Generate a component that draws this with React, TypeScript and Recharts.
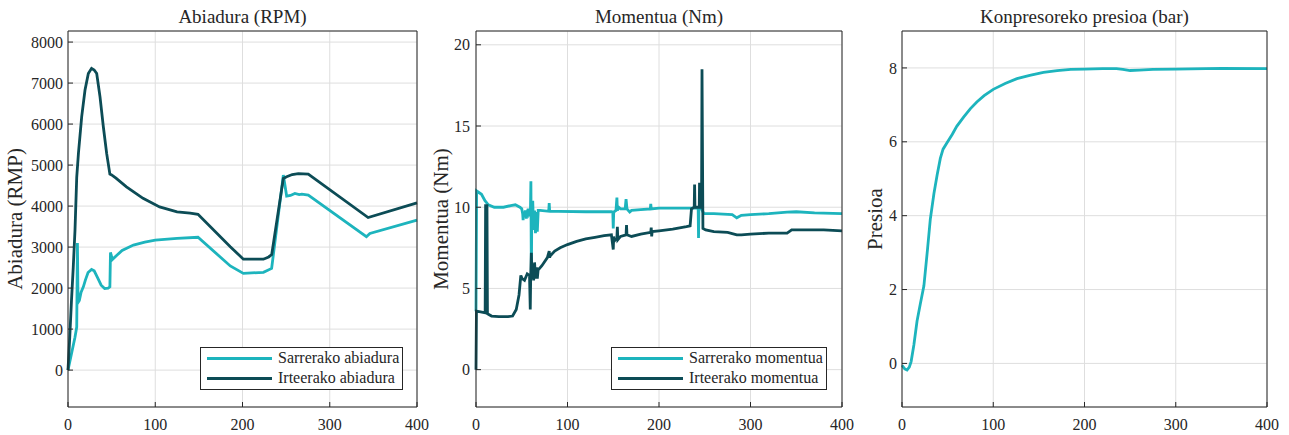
import React from 'react';
import { LineChart, Line, XAxis, YAxis, CartesianGrid, Legend, ReferenceLine } from 'recharts';

const FONT = '"Liberation Serif", "Times New Roman", serif';
const CYAN = '#1db4bd';
const DARK = '#0c4c56';
const INK = '#262626';

const xTicks = [0, 100, 200, 300, 400];
const speedTicks = [0, 1000, 2000, 3000, 4000, 5000, 6000, 7000, 8000];
const torqueTicks = [0, 5, 10, 15, 20];
const pressureTicks = [0, 2, 4, 6, 8];

// [t, rpm]
const inputSpeed: [number, number][] = [
  [0, 0], [4, 400], [8, 800], [10, 1050], [10.8, 3100], [11.5, 1650], [13, 1700],
  [15, 1900], [17.6, 2030], [20, 2200], [23, 2380], [27, 2455], [30, 2420],
  [34, 2250], [38, 2070], [42, 1990], [46, 2000], [48, 2030], [48.7, 2870],
  [49.5, 2800], [51, 2700], [56, 2800], [62, 2920], [75, 3050], [88, 3120],
  [100, 3170], [125, 3210], [149, 3240], [186, 2540], [201, 2358], [224, 2385],
  [233.4, 2480], [246.8, 4756], [250.6, 4244], [255, 4260], [260, 4310],
  [265, 4280], [268, 4290], [275.4, 4268], [342, 3252], [346, 3333], [400, 3658],
];

const outputSpeed: [number, number][] = [
  [0, 0], [2, 800], [4, 1700], [6, 2500], [8, 3400], [10, 4700], [12, 5300],
  [15.7, 6180], [19.5, 6830], [23.3, 7235], [27, 7360], [30, 7320], [32.9, 7235],
  [36.7, 6665], [40.5, 5935], [44.3, 5285], [48, 4780], [50, 4760], [55, 4680],
  [67, 4470], [86, 4190], [105, 3980], [125, 3860], [140, 3830], [149, 3800],
  [186, 3010], [201, 2705], [224, 2705], [230, 2760], [233.5, 2820],
  [246.8, 4675], [250.6, 4715], [257, 4770], [264, 4790], [275.4, 4780],
  [344, 3720], [400, 4080],
];

// [t, Nm]
const inputTorque: [number, number][] = [
  [0, 3.6], [0.7, 11.0], [6, 10.8], [9.8, 10.4], [13.5, 10.15], [20, 10.0],
  [30, 10.0], [38, 10.1], [43, 10.15], [48, 10.0], [50, 9.9], [51, 9.6],
  [51.5, 9.2], [52, 9.7], [53, 9.5], [54, 9.8], [55, 9.3], [56, 9.7], [57, 9.9],
  [58, 9.6], [59.5, 9.8], [60, 11.6], [60.5, 5.7], [61, 9.8], [61.5, 9.0],
  [62, 10.4], [63, 8.6], [64, 9.8], [65, 8.4], [66, 9.7], [67, 8.5], [68, 9.8],
  [70, 9.8], [79.5, 9.75], [80, 10.25], [80.5, 9.75], [90, 9.75], [120, 9.72],
  [148, 9.72], [149.5, 9.7], [150, 8.7], [150.5, 9.7], [153, 9.8], [154, 10.6],
  [154.5, 9.8], [156, 10.0], [158, 9.9], [163, 9.9], [164, 10.5], [165, 9.9],
  [168, 9.7], [170, 9.8], [180, 9.85], [190.5, 9.9], [191, 10.2], [191.5, 9.9],
  [200, 9.95], [220, 9.95], [242.8, 9.95], [243.2, 8.1], [243.6, 9.9],
  [246, 9.95], [249, 9.6], [260, 9.6], [280, 9.55], [285, 9.35], [290, 9.5],
  [300, 9.55], [320, 9.6], [340, 9.7], [350, 9.72], [370, 9.65], [400, 9.6],
];

const outputTorque: [number, number][] = [
  [0, 0], [0.5, 3.6], [5, 3.55], [10, 3.5], [10.5, 10.1], [12, 10.1],
  [12.5, 3.45], [14, 3.4], [17, 3.3], [25, 3.27], [35, 3.27], [40, 3.3],
  [44, 3.7], [47, 4.6], [49, 5.8], [50.5, 5.6], [53, 5.5], [56, 5.9],
  [58.5, 5.8], [59.3, 3.7], [59.8, 5.8], [60.5, 7.2], [61.2, 5.6], [62, 6.4],
  [63, 5.5], [64, 6.6], [65, 5.6], [66, 6.3], [67, 5.6], [68, 6.2], [69, 6.2],
  [72, 6.4], [78, 6.9], [80, 7.3], [80.5, 6.9], [81, 7.0], [86, 7.3], [92, 7.5],
  [100, 7.7], [110, 7.9], [120, 8.05], [130, 8.15], [140, 8.25], [148, 8.3],
  [150, 7.4], [150.5, 8.2], [151, 7.9], [154, 8.1], [154.5, 8.8], [155, 8.0],
  [158, 8.2], [164, 8.3], [164.5, 8.9], [165, 8.3], [170, 8.2], [180, 8.35],
  [191, 8.45], [191.5, 8.75], [192, 8.2], [192.5, 8.5], [200, 8.55],
  [215, 8.65], [230, 8.8], [234, 8.85], [235.5, 9.9], [238.5, 10.0],
  [238.9, 11.4], [239.3, 10.0], [244, 10.0], [244.3, 11.5], [244.7, 10.0],
  [246.5, 10.0], [247, 18.5], [248, 8.7], [251, 8.6], [260, 8.5], [275, 8.45],
  [285, 8.3], [290, 8.3], [300, 8.35], [320, 8.4], [340, 8.4], [345, 8.6],
  [360, 8.6], [380, 8.6], [400, 8.55],
];

// [t, bar]
const pressure: [number, number][] = [
  [0, -0.05], [3, -0.15], [5.5, -0.18], [8, -0.1], [10, 0.05], [13, 0.5],
  [16.5, 1.15], [20, 1.6], [24, 2.1], [28, 3.1], [31, 3.9], [35, 4.6],
  [38.5, 5.1], [42, 5.55], [45, 5.8], [50, 6.0], [55, 6.2], [60, 6.42],
  [67.5, 6.67], [75, 6.9], [82, 7.08], [90, 7.25], [100, 7.42], [113, 7.58],
  [126, 7.71], [140, 7.8], [155, 7.88], [170, 7.93], [185, 7.96], [200, 7.97],
  [220, 7.98], [235, 7.98], [242, 7.96], [250, 7.93], [260, 7.94], [275, 7.96],
  [300, 7.97], [350, 7.99], [400, 7.98],
];

const toRows = (pts: [number, number][]) => pts.map(([t, v]) => ({ t, v }));

type Series = { name: string; color: string; points: [number, number][] };

type PanelProps = {
  left: number;
  width: number;
  yWidth: number;
  marginRight: number;
  yDomain: [number, number];
  yTicks: number[];
  yTickMargin: number;
  title: string;
  yLabel: string;
  yLabelX: number;
  series: Series[];
  legend?: { left: number; width: number };
};

// serif tick labels (the default tick text ignored the font family)
const XTick = ({ x, y, payload }: any) => (
  <text x={x} y={y} dy="0.71em" textAnchor="middle" fill={INK} style={{ fontFamily: FONT, fontSize: 16 }}>
    {payload.value}
  </text>
);

const YTick = ({ x, y, payload }: any) => (
  <text x={x} y={y} dy="0.355em" textAnchor="end" fill={INK} style={{ fontFamily: FONT, fontSize: 16 }}>
    {payload.value}
  </text>
);

// legend drawn in series order (recharts sorts the payload by name otherwise)
const LegendBox = ({ items }: { items: Series[] }) => (
  <div
    style={{
      border: `1px solid ${INK}`,
      background: '#fff',
      width: '100%',
      height: '100%',
      boxSizing: 'border-box',
      paddingLeft: 6,
      fontFamily: FONT,
      fontSize: 16,
      color: INK,
    }}
  >
    {items.map((s) => (
      <div key={s.name} style={{ display: 'flex', alignItems: 'center', height: 20, lineHeight: '20px' }}>
        <span style={{ width: 65, height: 3, background: s.color, marginRight: 6, display: 'inline-block' }} />
        <span>{s.name}</span>
      </div>
    ))}
  </div>
);

function Panel(props: PanelProps) {
  const { left, width, yWidth, marginRight, yDomain, yTicks, yTickMargin, title, yLabel, yLabelX, series, legend } = props;

  const renderYLabel = ({ viewBox }: any) => {
    const cy = viewBox.y + viewBox.height / 2;
    return (
      <text
        x={yLabelX}
        y={cy}
        transform={`rotate(-90 ${yLabelX} ${cy})`}
        textAnchor="middle"
        dominantBaseline="central"
        style={{ fontFamily: FONT, fontSize: 21, fill: INK }}
      >
        {yLabel}
      </text>
    );
  };

  return (
    <div style={{ position: 'absolute', left, top: 0, fontFamily: FONT }}>
      <LineChart width={width} height={435} margin={{ top: 31, right: marginRight, bottom: 0, left: 0 }}>
        <CartesianGrid stroke="#dedede" strokeWidth={1} />
        <XAxis
          type="number"
          dataKey="t"
          domain={[0, 400]}
          ticks={xTicks}
          height={28}
          tickSize={-5}
          tickMargin={17}
          tick={<XTick />}
          axisLine={{ stroke: INK }}
          tickLine={{ stroke: INK }}
        />
        <YAxis
          type="number"
          domain={yDomain}
          ticks={yTicks}
          width={yWidth}
          tickSize={-5}
          tickMargin={yTickMargin}
          tick={<YTick />}
          axisLine={{ stroke: INK }}
          tickLine={{ stroke: INK }}
          allowDataOverflow
          label={{ content: renderYLabel }}
        />
        {series.map((s) => (
          <Line
            key={s.name}
            type="linear"
            data={toRows(s.points)}
            dataKey="v"
            name={s.name}
            stroke={s.color}
            strokeWidth={2.8}
            dot={false}
            isAnimationActive={false}
          />
        ))}
        <ReferenceLine
          y={yDomain[1]}
          stroke={INK}
          strokeWidth={1}
          ifOverflow="visible"
          label={{ value: title, position: 'top', offset: 8, style: { fontFamily: FONT, fontSize: 19, fill: INK } }}
        />
        <ReferenceLine x={400} stroke={INK} strokeWidth={1} ifOverflow="visible" />
        {legend && (
          <Legend
            layout="vertical"
            align="center"
            verticalAlign="middle"
            content={<LegendBox items={series} />}
            wrapperStyle={{ left: legend.left, top: 347, width: legend.width, height: 43 }}
          />
        )}
      </LineChart>
    </div>
  );
}

export default function App() {
  return (
    <div style={{ position: 'fixed', left: 0, top: 0, width: 1289, height: 435, background: '#fff' }}>
      <Panel
        left={0}
        width={430}
        yWidth={68}
        marginRight={13}
        yDomain={[-900, 8270]}
        yTicks={speedTicks}
        yTickMargin={10}
        title="Abiadura (RPM)"
        yLabel="Abiadura (RMP)"
        yLabelX={15}
        series={[
          { name: 'Sarrerako abiadura', color: CYAN, points: inputSpeed },
          { name: 'Irteerako abiadura', color: DARK, points: outputSpeed },
        ]}
        legend={{ left: 200, width: 203 }}
      />
      <Panel
        left={425}
        width={430}
        yWidth={51}
        marginRight={13}
        yDomain={[-2.3, 20.85]}
        yTicks={torqueTicks}
        yTickMargin={11}
        title="Momentua (Nm)"
        yLabel="Momentua (Nm)"
        yLabelX={16}
        series={[
          { name: 'Sarrerako momentua', color: CYAN, points: inputTorque },
          { name: 'Irteerako momentua', color: DARK, points: outputTorque },
        ]}
        legend={{ left: 186, width: 216 }}
      />
      <Panel
        left={850}
        width={439}
        yWidth={52}
        marginRight={22}
        yDomain={[-1.18, 9]}
        yTicks={pressureTicks}
        yTickMargin={10}
        title="Konpresoreko presioa (bar)"
        yLabel="Presioa"
        yLabelX={25}
        series={[{ name: 'Konpresoreko presioa', color: CYAN, points: pressure }]}
      />
    </div>
  );
}
